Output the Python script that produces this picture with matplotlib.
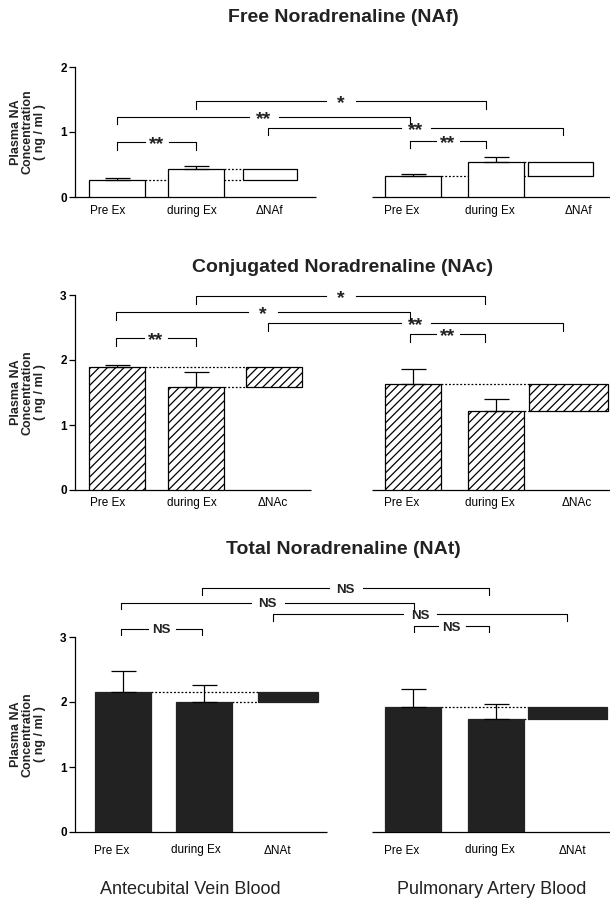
import matplotlib
matplotlib.use("Agg")
import matplotlib.pyplot as plt

plt.rcParams["font.family"] = ["Liberation Sans", "DejaVu Sans"]
plt.rcParams["hatch.linewidth"] = 0.9

W, H = 610, 906
PX = 65  # pixels per ng/ml on every panel

sites = ["Antecubital Vein Blood", "Pulmonary Artery Blood"]
stages = ["Pre Ex", "during Ex"]

# free noradrenaline
naf_pre = [0.26, 0.32]
naf_during = [0.43, 0.54]
naf_pre_err = [0.04, 0.03]
naf_during_err = [0.05, 0.07]

# conjugated noradrenaline
nac_pre = [1.89, 1.63]
nac_during = [1.58, 1.22]
nac_pre_err = [0.03, 0.23]
nac_during_err = [0.24, 0.18]

# total noradrenaline
nat_pre = [2.15, 1.93]
nat_during = [2.00, 1.74]
nat_pre_err = [0.32, 0.27]
nat_during_err = [0.26, 0.23]

# comparisons: 0-2 left group (pre, during, delta), 3-5 right group
pairs = [(1, 4), (0, 3), (2, 5), (0, 1), (3, 4)]
naf_sig = ["*", "**", "**", "**", "**"]
nac_sig = ["*", "*", "**", "**", "**"]
nat_sig = ["NS", "NS", "NS", "NS", "NS"]

fig = plt.figure(figsize=(W / 100, H / 100), dpi=100)


def panel(title, title_y, zero_y, top, nticks, pre, during, pre_err, during_err,
          delta_name, sig, br_y, br_x, drop, bar_x, delta_x, delta_w,
          axis_end, label_x, label_pad, style):
    ax = fig.add_axes([0, (H - zero_y) / H, 1, top * PX / H])
    ax.set_xlim(0, W)
    ax.set_ylim(0, top)
    for s in ["top", "right", "bottom"]:
        ax.spines[s].set_visible(False)
    ax.spines["left"].set_position(("data", 75))
    ax.spines["left"].set_bounds(0, nticks)
    ax.spines["left"].set_linewidth(0.9)
    ax.set_yticks(range(nticks + 1))
    ax.set_yticklabels([str(t) for t in range(nticks + 1)], fontweight="bold")
    ax.tick_params(axis="y", length=4, width=0.9, labelsize=8.5, pad=2)
    ax.hlines(0, 75, axis_end, color="black", lw=0.9, clip_on=False)
    ax.hlines(0, 372, W, color="black", lw=0.9, clip_on=False)

    labels = stages + [delta_name] + stages + [delta_name]
    ax.set_xticks(label_x, labels)
    ax.tick_params(axis="x", length=0, labelsize=8.5, pad=label_pad)

    for g in range(2):
        xs = bar_x[g]
        ax.bar(xs, [pre[g], during[g]], width=56, zorder=3, **style)
        ax.errorbar(xs, [pre[g], during[g]], yerr=[[0, 0], [pre_err[g], during_err[g]]],
                    fmt="none", ecolor="black", elinewidth=0.9, capsize=9,
                    capthick=0.9, zorder=4)
        lo, hi = min(pre[g], during[g]), max(pre[g], during[g])
        ax.bar(delta_x[g], hi - lo, bottom=lo, width=delta_w[g], zorder=3, **style)
        left = delta_x[g] - delta_w[g] / 2
        ax.hlines(pre[g], xs[0] + 28, left, color="black", lw=0.9,
                  linestyles=(0, (1.5, 1.5)), zorder=2)
        ax.hlines(during[g], xs[1] + 28, left, color="black", lw=0.9,
                  linestyles=(0, (1.5, 1.5)), zorder=2)

    for k, ((i, j), lab, y) in enumerate(zip(pairs, sig, br_y)):
        x1, x2 = br_x[i], br_x[j]
        xm = (x1 + x2) / 2
        gap = 30 if k < 3 else 24
        if lab == "NS":
            gap += 4
        ax.plot([x1, x1, xm - gap / 2], [y - drop, y, y], color="black",
                lw=0.8, clip_on=False, zorder=5)
        ax.plot([xm + gap / 2, x2, x2], [y, y, y - drop], color="black",
                lw=0.8, clip_on=False, zorder=5)
        if lab.startswith("*"):
            fs, shift = 14, -0.36
        else:
            fs, shift = 9.5, -0.36
        ax.annotate(lab, (xm, y), xytext=(0, shift * fs),
                    textcoords="offset points", ha="center", va="baseline",
                    fontsize=fs, fontweight="bold", color="#222222", zorder=6)

    fig.text(343 / W, 1 - title_y / H, title, ha="center", va="center",
             fontsize=14, fontweight="bold", color="#222222")
    fig.text(28 / W, 1 - (zero_y - nticks * PX / 2) / H,
             "Plasma NA\nConcentration\n( ng / ml )", rotation=90, ha="center",
             va="center", fontsize=9, fontweight="bold", linespacing=1.0,
             color="#222222")
    return ax


white = dict(facecolor="white", edgecolor="black", linewidth=0.9)
hatched = dict(facecolor="white", edgecolor="black", linewidth=0.9, hatch="////")
dark = dict(facecolor="#222222", edgecolor="#222222", linewidth=0.9)

panel("Free Noradrenaline (NAf)", 18, 197, 2.0, 2,
      naf_pre, naf_during, naf_pre_err, naf_during_err, "\u0394NAf",
      naf_sig, [1.47, 1.23, 1.06, 0.84, 0.86], [117, 196, 268, 410, 486, 563], 0.11,
      [[117, 196], [413, 496]], [270, 560], [54, 65], 316,
      [108, 192, 269, 402, 490, 578], 6, white)

panel("Conjugated Noradrenaline (NAc)", 267, 490, 3.0, 3,
      nac_pre, nac_during, nac_pre_err, nac_during_err, "\u0394NAc",
      nac_sig, [2.98, 2.74, 2.57, 2.34, 2.40], [116, 196, 268, 410, 485, 563], 0.12,
      [[117, 196], [413, 496]], [274, 568], [56, 79], 311,
      [108, 192, 273, 402, 490, 577], 5, hatched)

panel("Total Noradrenaline (NAt)", 550, 832, 3.9, 3,
      nat_pre, nat_during, nat_pre_err, nat_during_err, "\u0394NAt",
      nat_sig, [3.75, 3.53, 3.35, 3.13, 3.17], [121, 202, 273, 414, 489, 567], 0.1,
      [[123, 204], [413, 496]], [288, 567], [60, 79], 327,
      [112, 196, 277, 402, 490, 572], 9, dark)

fig.text(190 / W, 1 - 890 / H, sites[0], ha="center", va="center", fontsize=13,
         color="#222222")
fig.text(492 / W, 1 - 890 / H, sites[1], ha="center", va="center", fontsize=13,
         color="#222222")

fig.savefig("out.png", dpi=100)
